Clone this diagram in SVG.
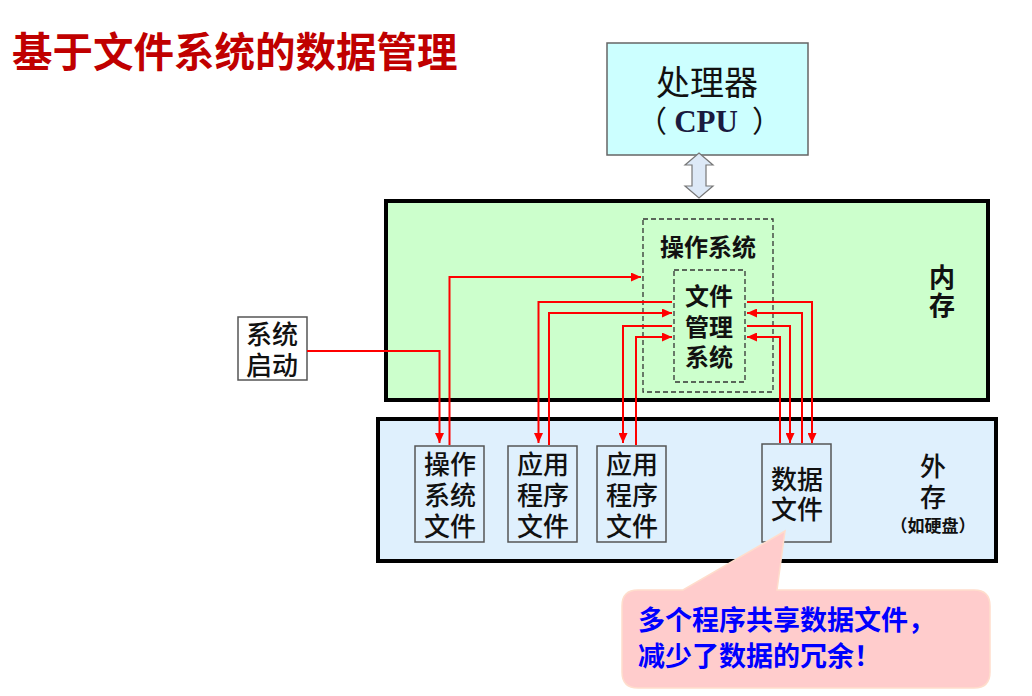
<svg xmlns="http://www.w3.org/2000/svg" width="1032" height="696" viewBox="0 0 1032 696">
<style>
.cjk{font-family:"Noto Sans CJK SC","Liberation Sans",sans-serif;}
.box{fill:none;stroke:#555;stroke-width:1.5;}
.lbl{font-family:"Noto Sans CJK SC",sans-serif;font-size:26px;fill:#111;text-anchor:middle;font-weight:500;}
.bold{font-weight:bold;}
.conn{fill:none;stroke:#ff0000;stroke-width:2;marker-end:url(#ah);}
.dash{fill:none;stroke:#333;stroke-width:1.3;stroke-dasharray:5,3;}
</style>
<defs>
<marker id="ah" markerUnits="userSpaceOnUse" markerWidth="10" markerHeight="9" refX="10" refY="4.5" orient="auto" viewBox="0 0 10 9">
<path d="M0,0 L10,4.5 L0,9 z" fill="#ff0000"/>
</marker>
</defs>
<rect width="1032" height="696" fill="#ffffff"/>

<g id="title">
<text x="12" y="67" class="cjk" font-size="40.5" font-weight="bold" fill="#c00000">基于文件系统的数据管理</text>
</g>

<g id="cpu">
<rect x="607" y="43" width="201" height="112" fill="#ccffff" stroke="#666" stroke-width="1.5"/>
<text x="707" y="95" class="lbl" style="font-size:34px;font-weight:normal">处理器</text>
<text y="132" fill="#111"><tspan x="652" text-anchor="middle" font-family="Noto Sans CJK SC,sans-serif" font-size="30">（</tspan><tspan x="706" text-anchor="middle" font-family="Liberation Serif,serif" font-size="31" font-weight="bold" fill="#1a1a40">CPU</tspan><tspan x="767" text-anchor="middle" font-family="Noto Sans CJK SC,sans-serif" font-size="30">）</tspan></text>
</g>

<g id="bus">
<path d="M699,153 L713,165 L706,165 L706,186 L713,186 L699,198 L685,186 L692,186 L692,165 L685,165 Z" fill="#dde9f7" stroke="#777" stroke-width="1.2"/>
</g>

<g id="memory">
<rect x="386" y="201" width="602" height="199" fill="#ccffcc" stroke="#000" stroke-width="4"/>
<text class="lbl bold"><tspan x="942" y="287">内</tspan><tspan x="942" y="315">存</tspan></text>
</g>

<g id="os">
<rect x="643" y="219" width="130" height="173" class="dash"/>
<text x="708" y="256" class="lbl bold" style="font-size:24px">操作系统</text>
</g>

<g id="filemgmt">
<rect x="674" y="270" width="71" height="112" class="dash"/>
<text class="lbl bold" style="font-size:24px"><tspan x="709" y="305">文件</tspan><tspan x="709" y="336">管理</tspan><tspan x="709" y="366">系统</tspan></text>
</g>

<g id="storage">
<rect x="378" y="419" width="618" height="142" fill="#dff0fd" stroke="#000" stroke-width="4"/>
<text class="lbl"><tspan x="933" y="476">外</tspan><tspan x="933" y="507">存</tspan></text>
<text x="933" y="532" class="lbl bold" style="font-size:17px">（如硬盘）</text>
</g>

<g id="boot">
<rect x="238" y="317" width="69" height="63" fill="#ffffff" stroke="#555" stroke-width="1.5"/>
<text class="lbl"><tspan x="272" y="344">系统</tspan><tspan x="272" y="375">启动</tspan></text>
</g>

<g id="osfile">
<rect x="415" y="446" width="69" height="96" class="box"/>
<text class="lbl"><tspan x="450" y="474">操作</tspan><tspan x="450" y="505">系统</tspan><tspan x="450" y="536">文件</tspan></text>
</g>

<g id="app1">
<rect x="508" y="446" width="69" height="96" class="box"/>
<text class="lbl"><tspan x="543" y="474">应用</tspan><tspan x="543" y="505">程序</tspan><tspan x="543" y="536">文件</tspan></text>
</g>

<g id="app2">
<rect x="597" y="446" width="69" height="96" class="box"/>
<text class="lbl"><tspan x="632" y="474">应用</tspan><tspan x="632" y="505">程序</tspan><tspan x="632" y="536">文件</tspan></text>
</g>

<g id="datafile">
<rect x="762" y="444" width="69" height="98" class="box"/>
<text class="lbl"><tspan x="797" y="489">数据</tspan><tspan x="797" y="519">文件</tspan></text>
</g>

<g id="connectors">
<path class="conn" d="M307,351 H439.5 V443"/>
<path class="conn" d="M449.5,445 V277 H641"/>
<path class="conn" d="M672,302 H538.5 V443"/>
<path class="conn" d="M549,445 V313 H672"/>
<path class="conn" d="M672,326 H623 V443"/>
<path class="conn" d="M636,445 V337 H672"/>
<path class="conn" d="M747,302 H812 V443"/>
<path class="conn" d="M802,443 V313 H747"/>
<path class="conn" d="M747,326 H790 V443"/>
<path class="conn" d="M780,443 V337 H747"/>
</g>

<g id="callout">
<path d="M785,531 L777,590 L974,590 Q990,590 990,606 L990,672 Q990,688 974,688 L638,688 Q622,688 622,672 L622,606 Q622,590 638,590 L683,590 Z" fill="#ffcccc" stroke="#ffddcc" stroke-width="1.5"/>
<text class="cjk" font-size="27" font-weight="bold" fill="#0000ff"><tspan x="638" y="630">多个程序共享数据文件，</tspan><tspan x="638" y="666">减少了数据的冗余！</tspan></text>
</g>
</svg>
